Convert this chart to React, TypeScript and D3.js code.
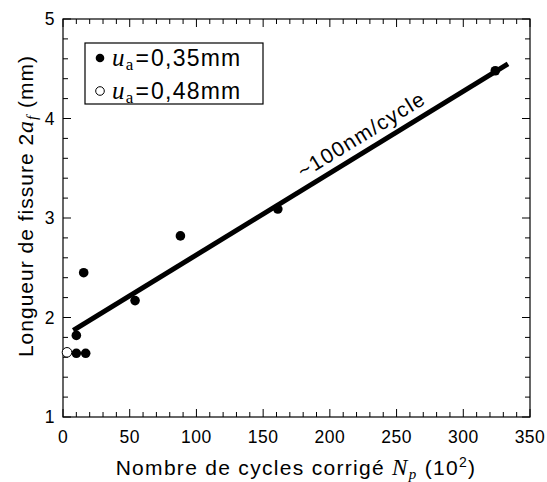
import React from "react";
import * as d3 from "d3";

const filledN = [10, 17, 10, 15.5, 54, 88, 161, 324];
const filledA = [1.64, 1.64, 1.82, 2.45, 2.17, 2.82, 3.09, 4.48];
const openN = [3];
const openA = [1.65];
const fitN = [7.7, 333.5];
const fitA = [1.87, 4.55];
const xTicks = [0, 50, 100, 150, 200, 250, 300, 350];
const yTicks = [1, 2, 3, 4, 5];
const annotation = "~100nm/cycle";

const W = 547, H = 482;
const L = 63, R = 530, T = 19, B = 417;
const SANS = "'Liberation Sans', Arial, Helvetica, sans-serif";
const SERIF = "'Liberation Serif', 'Times New Roman', serif";

export default function App() {
  const x = d3.scaleLinear().domain([0, 350]).range([L, R]);
  const y = d3.scaleLinear().domain([1, 5]).range([B, T]);
  const xMinor = d3.range(0, 351, 10).filter((v) => v % 50 !== 0);
  const yMinor = d3.range(1, 5.001, 0.2).filter((v) => Math.abs(v - Math.round(v)) > 1e-6);
  const line = d3.line<number>().x((d, i) => x(fitN[i])).y((d, i) => y(fitA[i]));
  const angle = (Math.atan2(y(fitA[1]) - y(fitA[0]), x(fitN[1]) - x(fitN[0])) * 180) / Math.PI;
  const annN = 230;
  const annA = fitA[0] + ((annN - fitN[0]) * (fitA[1] - fitA[0])) / (fitN[1] - fitN[0]);
  const maj = 8, mi = 5;
  return (
    <svg width={W} height={H} style={{ position: "absolute", left: 0, top: 0, background: "#fff" }}>
      <rect x={0} y={0} width={W} height={H} fill="#fff" />
      {/* ticks */}
      <g stroke="#000" strokeWidth={1}>
        {xTicks.map((v) => (
          <g key={"xt" + v}>
            <line x1={x(v)} x2={x(v)} y1={B} y2={B - maj} />
            <line x1={x(v)} x2={x(v)} y1={T} y2={T + maj} />
          </g>
        ))}
        {xMinor.map((v) => (
          <g key={"xm" + v}>
            <line x1={x(v)} x2={x(v)} y1={B} y2={B - mi} />
            <line x1={x(v)} x2={x(v)} y1={T} y2={T + mi} />
          </g>
        ))}
        {yTicks.map((v) => (
          <g key={"yt" + v}>
            <line x1={L} x2={L + maj} y1={y(v)} y2={y(v)} />
            <line x1={R} x2={R - maj} y1={y(v)} y2={y(v)} />
          </g>
        ))}
        {yMinor.map((v) => (
          <g key={"ym" + v}>
            <line x1={L} x2={L + mi} y1={y(v)} y2={y(v)} />
            <line x1={R} x2={R - mi} y1={y(v)} y2={y(v)} />
          </g>
        ))}
      </g>
      <rect x={L} y={T} width={R - L} height={B - T} fill="none" stroke="#000" strokeWidth={1.2} />
      {/* tick labels */}
      <g fontFamily={SANS} fontSize={17.5} fill="#000" letterSpacing={0.5}>
        {xTicks.map((v) => (
          <text key={"xl" + v} x={x(v)} y={B + 26} textAnchor="middle">{v}</text>
        ))}
        {yTicks.map((v) => (
          <text key={"yl" + v} x={L - 8} y={y(v) + 6} textAnchor="end">{v}</text>
        ))}
      </g>
      {/* axis titles */}
      <text x={296} y={475} textAnchor="middle" fontFamily={SANS} fontSize={21} letterSpacing={1.3} fill="#000">
        Nombre de cycles corrigé{" "}
        <tspan fontFamily={SERIF} fontStyle="italic" fontSize={23}>N</tspan>
        <tspan fontFamily={SERIF} fontStyle="italic" fontSize={15} dy={4}>p</tspan>
        <tspan dy={-4}> (10</tspan>
        <tspan fontSize={14} dy={-8}>2</tspan>
        <tspan dy={8}>)</tspan>
      </text>
      <text transform={`translate(33,206) rotate(-90)`} textAnchor="middle" fontFamily={SANS} fontSize={21} letterSpacing={1.0} fill="#000">
        Longueur de fissure 2
        <tspan fontFamily={SERIF} fontStyle="italic" fontSize={24}>a</tspan>
        <tspan fontFamily={SERIF} fontStyle="italic" fontSize={15} dy={4}>f</tspan>
        <tspan dy={-4}> (mm)</tspan>
      </text>
      {/* fit line */}
      <path d={line(fitN) || ""} stroke="#000" strokeWidth={5} fill="none" />
      <text
        transform={`translate(${x(annN)},${y(annA)}) rotate(${angle})`}
        y={-9}
        textAnchor="middle"
        fontFamily={SANS}
        fontSize={21}
        letterSpacing={1.3}
        fill="#000"
      >
        {annotation}
      </text>
      {/* points */}
      {filledN.map((n, i) => (
        <circle key={"f" + i} cx={x(n)} cy={y(filledA[i])} r={4.8} fill="#000" />
      ))}
      {openN.map((n, i) => (
        <circle key={"o" + i} cx={x(n)} cy={y(openA[i])} r={4.8} fill="#fff" stroke="#000" strokeWidth={1} />
      ))}
      {/* legend */}
      <rect x={85} y={43} width={178} height={61} fill="#fff" stroke="#000" strokeWidth={1.2} />
      <circle cx={100} cy={58} r={4.3} fill="#000" />
      <circle cx={100} cy={91} r={4.3} fill="#fff" stroke="#000" strokeWidth={1} />
      {[["0,35mm", 66], ["0,48mm", 99]].map(([t, yy]) => (
        <text key={String(t)} x={112} y={Number(yy)} fontFamily={SANS} fontSize={23} letterSpacing={1.2} fill="#000">
          <tspan fontFamily={SERIF} fontStyle="italic" fontSize={25}>u</tspan>
          <tspan fontFamily={SERIF} fontSize={17} dy={4}>a</tspan>
          <tspan dy={-4} dx={1}>=</tspan>
          <tspan dx={1}>{t}</tspan>
        </text>
      ))}
    </svg>
  );
}
